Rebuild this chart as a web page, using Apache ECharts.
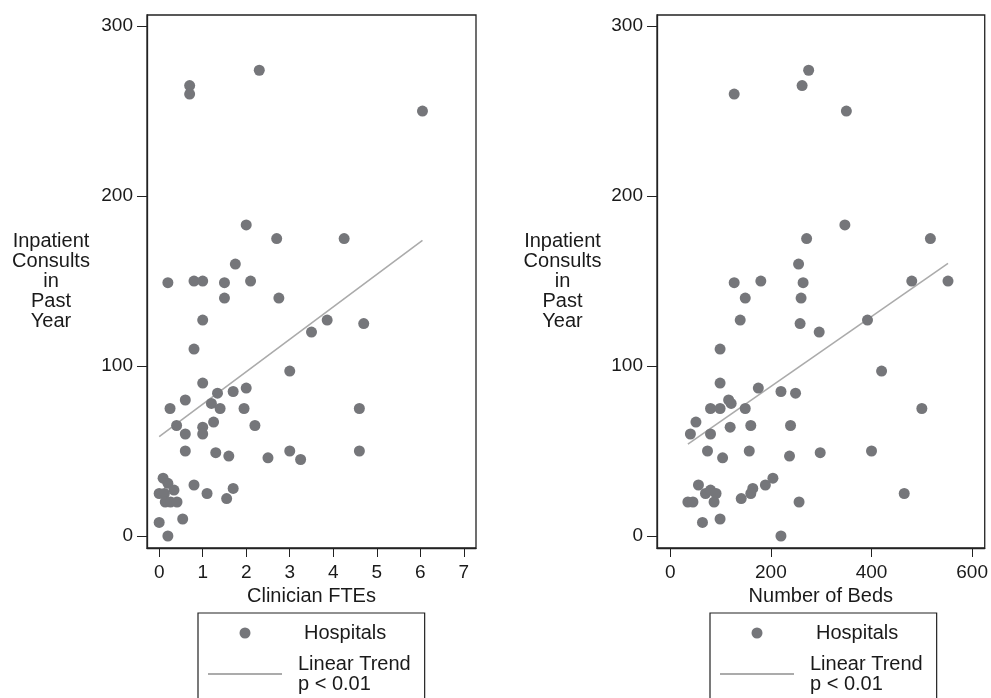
<!DOCTYPE html>
<html>
<head>
<meta charset="utf-8">
<script src="https://cdn.jsdelivr.net/npm/echarts@6/dist/echarts.min.js"></script>
<style>
    html, body { margin: 0; padding: 0; background: #fff; }
    #chart { width: 991px; height: 698px; }
</style>
</head>
<body>
<div id="chart"></div>
<script>
    // left panel: clinician FTEs vs consults
    var ftes = [0.7, 0.7, 2.3, 6.05, 2.0, 2.7, 4.25, 1.75, 0.2, 0.8, 1.0, 1.5, 2.1, 1.5, 2.75, 1.0, 3.86, 4.7, 3.5, 0.8,
        3.0, 1.0, 1.34, 1.7, 2.0, 0.6, 0.25, 1.2, 1.4, 1.95, 4.6, 0.4, 1.25, 2.2, 1.0, 0.6, 1.0, 0.6, 1.3, 1.6,
        2.5, 3.0, 3.25, 4.6, 0.09, 0.2, 0.34, 0.0, 0.12, 0.14, 0.26, 0.41, 0.8, 1.1, 1.7, 1.55, 0.0, 0.54, 0.2];
    var consultsA = [265, 260, 274, 250, 183, 175, 175, 160, 149, 150, 150, 149, 150, 140, 140, 127, 127, 125, 120, 110,
        97, 90, 84, 85, 87, 80, 75, 78, 75, 75, 75, 65, 67, 65, 64, 60, 60, 50, 49, 47,
        46, 50, 45, 50, 34, 31, 27, 25, 25, 20, 20, 20, 30, 25, 28, 22, 8, 10, 0];

    // right panel: number of beds vs consults
    var beds = [127, 262, 275, 350, 347, 271, 517, 255, 127, 180, 264, 480, 552, 149, 260, 139, 258, 296, 392, 99,
        420, 99, 175, 220, 249, 116, 121, 80, 99, 149, 500, 51, 40, 80, 119, 160, 239, 74, 104, 157,
        237, 298, 400, 204, 189, 164, 160, 141, 256, 465, 56, 70, 80, 91, 87, 35, 45, 64, 99, 220];
    var consultsB = [260, 265, 274, 250, 183, 175, 175, 160, 149, 150, 149, 150, 150, 140, 140, 127, 125, 120, 127, 110,
        97, 90, 87, 85, 84, 80, 78, 75, 75, 75, 75, 67, 60, 60, 64, 65, 65, 50, 46, 50,
        47, 49, 50, 34, 30, 28, 25, 22, 20, 25, 30, 25, 27, 25, 20, 20, 20, 8, 10, 0];

    // trend lines (intercept, slope)
    var trendA = [58.4, 19.1];
    var trendB = [46.8, 0.2058];

    var ticksFte = [0, 1, 2, 3, 4, 5, 6, 7];
    var ticksBeds = [0, 200, 400, 600];
    var ticksY = [0, 100, 200, 300];
    var yTitle = 'Inpatient\nConsults\nin\nPast\nYear';

    function pairs(xs, ys) {
        return xs.map(function (x, i) { return [x, ys[i]]; });
    }
    function trendLine(xs, coef) {
        var lo = Math.min.apply(null, xs), hi = Math.max.apply(null, xs);
        return [[lo, coef[0] + coef[1] * lo], [hi, coef[0] + coef[1] * hi]];
    }

    var font = '"Liberation Sans", Arial, sans-serif';
    var txt = '#1a1a1a';
    var dotColor = '#75767a';
    var lineColor = '#ababab';

    function xAxisCfg(idx, name, min, max, ticks) {
        return {
            type: 'value', gridIndex: idx, min: min, max: max,
            name: name, nameLocation: 'middle', nameGap: 30,
            nameTextStyle: { color: txt, fontSize: 20, fontFamily: font },
            axisLine: { show: true, onZero: false, lineStyle: { color: '#222', width: 1.3 } },
            axisTick: { show: true, inside: false, length: 9, customValues: ticks, lineStyle: { color: '#222' } },
            axisLabel: { customValues: ticks, margin: 15, color: txt, fontSize: 19, fontFamily: font },
            splitLine: { show: false }
        };
    }
    function yAxisCfg(idx, gap) {
        return {
            type: 'value', gridIndex: idx, min: -7.06, max: 306.5,
            name: yTitle, nameLocation: 'middle', nameGap: gap, nameRotate: 0,
            nameTextStyle: { color: txt, fontSize: 20, fontFamily: font, align: 'center',
                verticalAlign: 'middle', lineHeight: 20 },
            axisLine: { show: true, onZero: false, lineStyle: { color: '#222', width: 1.3 } },
            axisTick: { show: true, inside: false, length: 10, customValues: ticksY, lineStyle: { color: '#222' } },
            axisLabel: { customValues: ticksY, margin: 14, color: txt, fontSize: 19, fontFamily: font },
            splitLine: { show: false }
        };
    }
    function legendCfg(left) {
        return {
            orient: 'vertical', left: left, top: 613, height: 100,
            padding: [10, 14, 14, 9],
            borderColor: '#222', borderWidth: 1.2,
            itemWidth: 74, itemHeight: 11, itemGap: 11,
            textStyle: { color: txt, fontSize: 20, fontFamily: font, lineHeight: 20, padding: [0, 0, 0, 11] },
            data: [
                { name: 'Hospitals', icon: 'circle', textStyle: { padding: [0, 0, 0, 17] } },
                { name: 'Linear Trend', itemStyle: { opacity: 0 } }
            ],
            formatter: function (n) { return n === 'Linear Trend' ? 'Linear Trend\np < 0.01' : n; },
            selectedMode: false
        };
    }
    function dots(idx, data) {
        return {
            name: 'Hospitals', type: 'scatter', xAxisIndex: idx, yAxisIndex: idx,
            data: data, symbolSize: 11, symbolKeepAspect: true,
            itemStyle: { color: dotColor, opacity: 1 }, z: 3
        };
    }
    function trend(idx, data) {
        return {
            name: 'Linear Trend', type: 'line', xAxisIndex: idx, yAxisIndex: idx,
            data: data, symbol: 'none', showSymbol: false, silent: true,
            lineStyle: { color: lineColor, width: 1.6 }, itemStyle: { color: lineColor }, z: 2
        };
    }

    var myChart = echarts.init(document.getElementById('chart'));
    var option = {
        backgroundColor: '#fff',
        animation: false,
        grid: [
            { left: 147, top: 15, width: 329, height: 533, show: true, borderColor: '#222', borderWidth: 1.3, backgroundColor: '#fff' },
            { left: 657, top: 15, width: 330, height: 533, show: true, borderColor: '#222', borderWidth: 1.3, backgroundColor: '#fff' }
        ],
        xAxis: [
            xAxisCfg(0, 'Clinician FTEs', -0.28, 7.28, ticksFte),
            xAxisCfg(1, 'Number of Beds', -26.4, 625, ticksBeds)
        ],
        yAxis: [yAxisCfg(0, 96), yAxisCfg(1, 94.5)],
        legend: [legendCfg(198), legendCfg(710)],
        series: [
            dots(0, pairs(ftes, consultsA)),
            trend(0, trendLine(ftes, trendA)),
            dots(1, pairs(beds, consultsB)),
            trend(1, trendLine(beds, trendB))
        ]
    };
    myChart.setOption(option);
</script>
</body>
</html>
